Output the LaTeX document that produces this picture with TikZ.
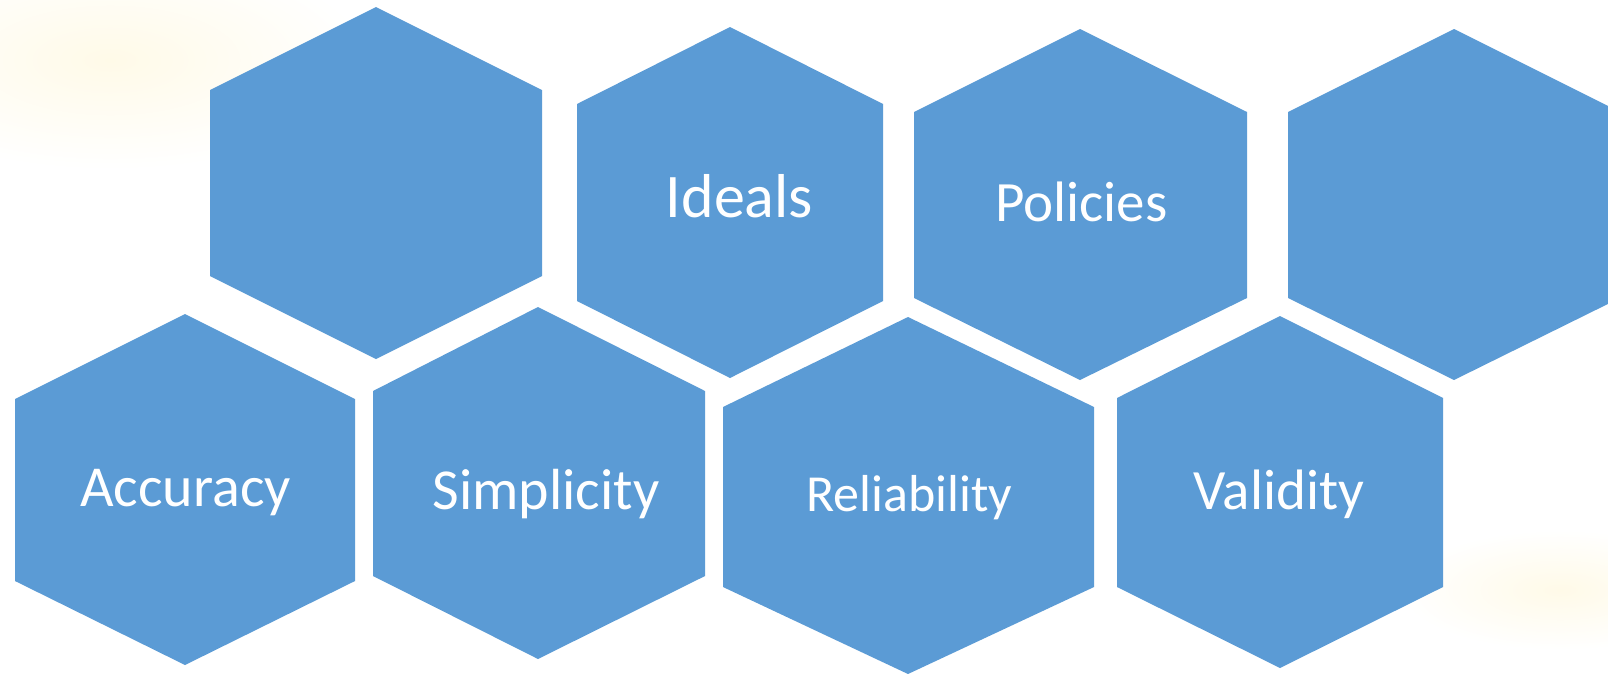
\documentclass[tikz,border=0pt]{standalone}
\usepackage{fontspec}
\setmainfont{Carlito}
\usepackage{tikz}
\usetikzlibrary{positioning}
\definecolor{cellblue}{RGB}{91,155,213}
\definecolor{haze}{RGB}{255,250,232}

\begin{document}
\begin{tikzpicture}[x=1pt, y=-1pt,
                    line join=miter,
                    hexcell/.style={fill=cellblue, draw=none},
                    celltext/.style={text=white, anchor=base, inner sep=0pt}]
  \clip (0,0) rectangle (1608,673);
  \fill[white] (0,0) rectangle (1608,673);
  % faint background tint
  \shade[inner color=haze, outer color=white] (110,60) ellipse (260 and 110);
  \shade[inner color=haze, outer color=white] (1560,590) ellipse (160 and 60);

  % hexagon cells: centre x / left / right / top / upper / lower / bottom
  \foreach \cx/\l/\r/\t/\u/\d/\b in {
      376/210/542/7/90/276/359,
      730/577/883/27/104/301/378,
      1080/914/1247/29/112/298/380,
      1454/1288/1620/29/112/298/380,
      185/15/355/314/399/581/665,
      538/373/705/307/391/576/659,
      908/723/1094/317/407/587/674,
      1280/1117/1443/316/398/587/668}
    \fill[hexcell] (\cx,\t) -- (\r,\u) -- (\r,\d) -- (\cx,\b)
                   -- (\l,\d) -- (\l,\u) -- cycle;

  % labels
  \node[celltext, font=\fontsize{62}{70}\selectfont] (ideals)      at (739.5,217) {Ideals};
  \node[celltext, font=\fontsize{57}{64}\selectfont] (policies)    at (1081.5,221) {Policies};
  \node[celltext, font=\fontsize{58}{66}\selectfont] (accuracy)    at (185.5,506) {Accuracy};
  \node[celltext, font=\fontsize{58}{66}\selectfont] (simplicity)  at (546,509) {Simplicity};
  \node[celltext, font=\fontsize{52}{60}\selectfont] (reliability) at (909.5,511) {Reliability};
  \node[celltext, font=\fontsize{57}{64}\selectfont] (validity)    at (1279,509) {Validity};
\end{tikzpicture}
\end{document}
